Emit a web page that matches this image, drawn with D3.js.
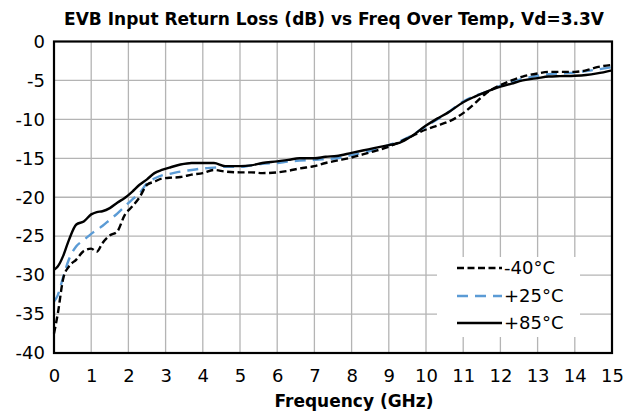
<!DOCTYPE html>
<html>
<head>
<meta charset="utf-8">
<script src="https://cdn.jsdelivr.net/npm/d3@7"></script>
<style>
  html, body { margin: 0; padding: 0; background: #fff; }
  svg { display: block; }
</style>
</head>
<body>
<svg id="chart" width="626" height="412"></svg>
<script>
const freq = [0, 0.1, 0.25, 0.4, 0.6, 0.8, 1.0, 1.15, 1.3, 1.5, 1.7, 1.9, 2.1, 2.3, 2.5, 2.7, 2.9, 3.1, 3.4, 3.7,
  4.0, 4.3, 4.6, 5.0, 5.3, 5.6, 6.0, 6.3, 6.6, 7.0, 7.3, 7.6, 8.0, 8.3, 8.6, 9.0, 9.3, 9.6, 10.0, 10.3,
  10.6, 11.0, 11.3, 11.6, 12.0, 12.3, 12.6, 13.0, 13.3, 13.6, 14.0, 14.3, 14.6, 15.0];

const rlMinus40 = [-37.5, -35.0, -30.4, -28.9, -28.0, -26.9, -26.6, -27.0, -25.9, -24.9, -24.4, -22.3, -21.2, -20.0, -18.4, -18.0, -17.6, -17.5, -17.4, -17.1,
  -16.9, -16.5, -16.7, -16.8, -16.8, -16.9, -16.8, -16.6, -16.3, -16.0, -15.6, -15.3, -14.9, -14.5, -14.1, -13.5, -12.9, -12.2, -11.3, -10.8,
  -10.3, -9.2, -8.0, -6.7, -5.6, -5.0, -4.5, -4.1, -3.9, -3.9, -3.9, -3.7, -3.3, -3.0];

const rlPlus25 = [-33.4, -32.6, -30.2, -28.0, -26.3, -25.5, -24.7, -24.2, -23.7, -22.9, -22.1, -21.2, -20.3, -19.5, -18.2, -17.6, -17.2, -17.0, -16.7, -16.5,
  -16.3, -16.2, -16.1, -16.1, -15.9, -15.7, -15.6, -15.4, -15.3, -15.2, -15.1, -15.0, -14.6, -14.3, -13.9, -13.3, -12.8, -12.1, -10.9, -10.0,
  -9.1, -7.7, -7.0, -6.5, -5.7, -5.2, -4.8, -4.4, -4.2, -4.1, -4.0, -3.8, -3.6, -3.3];

const rlPlus85 = [-29.3, -28.9, -27.5, -25.5, -23.5, -23.1, -22.2, -21.9, -21.8, -21.4, -20.7, -20.1, -19.3, -18.4, -17.7, -16.9, -16.5, -16.2, -15.8, -15.6,
  -15.6, -15.6, -16.0, -16.0, -15.9, -15.6, -15.4, -15.2, -15.0, -15.0, -14.8, -14.7, -14.3, -14.0, -13.7, -13.3, -13.0, -12.2, -10.8, -9.9,
  -9.1, -7.8, -7.1, -6.5, -5.8, -5.4, -5.0, -4.7, -4.5, -4.45, -4.4, -4.3, -4.1, -3.7];

const seriesNames = ["-40°C", "+25°C", "+85°C"];
const xTickValues = d3.range(0, 16, 1);
const yTickValues = [0, -5, -10, -15, -20, -25, -30, -35, -40];
const titleText = "EVB Input Return Loss (dB) vs Freq Over Temp, Vd=3.3V";
const xTitleText = "Frequency (GHz)";

const svg = d3.select("#chart");
const W = 626, H = 412;
const L = 54, R = 612, T = 41.5, B = 353;

svg.append("rect").attr("width", W).attr("height", H).attr("fill", "#fff");

const x = d3.scaleLinear().domain([0, 15]).range([L, R]);
const y = d3.scaleLinear().domain([-40, 0]).range([B, T]);

// grid
const grid = svg.append("g");
grid.selectAll("line.v").data(xTickValues.slice(1, -1)).join("line")
  .attr("x1", d => x(d)).attr("x2", d => x(d)).attr("y1", T).attr("y2", B)
  .attr("stroke", "#b4b4b4").attr("stroke-width", 1.3);
grid.selectAll("line.h").data(yTickValues.slice(1, -1)).join("line")
  .attr("x1", L).attr("x2", R).attr("y1", d => y(d)).attr("y2", d => y(d))
  .attr("stroke", "#b4b4b4").attr("stroke-width", 1.3);

// axes labels
const xAxis = svg.append("g").attr("transform", `translate(0,${B})`)
  .call(d3.axisBottom(x).tickValues(xTickValues).tickSize(0).tickPadding(16).tickFormat(d3.format("d")));
xAxis.select(".domain").remove();
xAxis.selectAll("text").attr("font-family", "DejaVu Sans").attr("font-size", 18).attr("fill", "#000");

const yAxis = svg.append("g").attr("transform", `translate(${L},0)`)
  .call(d3.axisLeft(y).tickValues(yTickValues).tickSize(0).tickPadding(9).tickFormat(d => d === 0 ? "0" : String(d)));
yAxis.select(".domain").remove();
yAxis.selectAll("text").attr("font-family", "DejaVu Sans").attr("font-size", 18).attr("fill", "#000");

// lines
const styles = [
  { data: rlMinus40, color: "#000", dash: "7,3.5", width: 2.4 },
  { data: rlPlus25, color: "#5b9bd5", dash: "11,7", width: 2.4 },
  { data: rlPlus85, color: "#000", dash: null, width: 2.4 }
];
const line = d3.line().x(d => x(d[0])).y(d => y(d[1])).curve(d3.curveMonotoneX);
const drawOrder = [1, 0, 2];
drawOrder.forEach(i => {
  const s = styles[i];
  svg.append("path")
    .datum(freq.map((f, k) => [f, s.data[k]]))
    .attr("d", line).attr("fill", "none")
    .attr("stroke", s.color).attr("stroke-width", s.width)
    .attr("stroke-dasharray", s.dash)
    .attr("stroke-linejoin", "round");
});

// border
svg.append("rect").attr("x", L).attr("y", T).attr("width", R - L).attr("height", B - T)
  .attr("fill", "none").attr("stroke", "#000").attr("stroke-width", 2.2);

// legend
const lg = svg.append("g");
lg.append("rect").attr("x", 437).attr("y", 257).attr("width", 143).attr("height", 80).attr("fill", "#fff");
const rowsY = [268, 296, 323];
seriesNames.forEach((name, i) => {
  const s = styles[i];
  lg.append("line").attr("x1", 457).attr("x2", 502).attr("y1", rowsY[i]).attr("y2", rowsY[i])
    .attr("stroke", s.color).attr("stroke-width", s.width).attr("stroke-dasharray", s.dash);
  lg.append("text").attr("x", 504).attr("y", rowsY[i]).attr("dy", "0.36em")
    .attr("font-family", "DejaVu Sans").attr("font-size", 18).attr("fill", "#000").text(name);
});

// title
svg.append("text").attr("x", 334).attr("y", 25).attr("text-anchor", "middle")
  .attr("font-family", "DejaVu Sans").attr("font-weight", "bold").attr("font-size", 17)
  .attr("fill", "#000").text(titleText);

// x axis title
svg.append("text").attr("x", 354).attr("y", 407).attr("text-anchor", "middle")
  .attr("font-family", "DejaVu Sans").attr("font-weight", "bold").attr("font-size", 17)
  .attr("fill", "#000").text(xTitleText);
</script>
</body>
</html>
